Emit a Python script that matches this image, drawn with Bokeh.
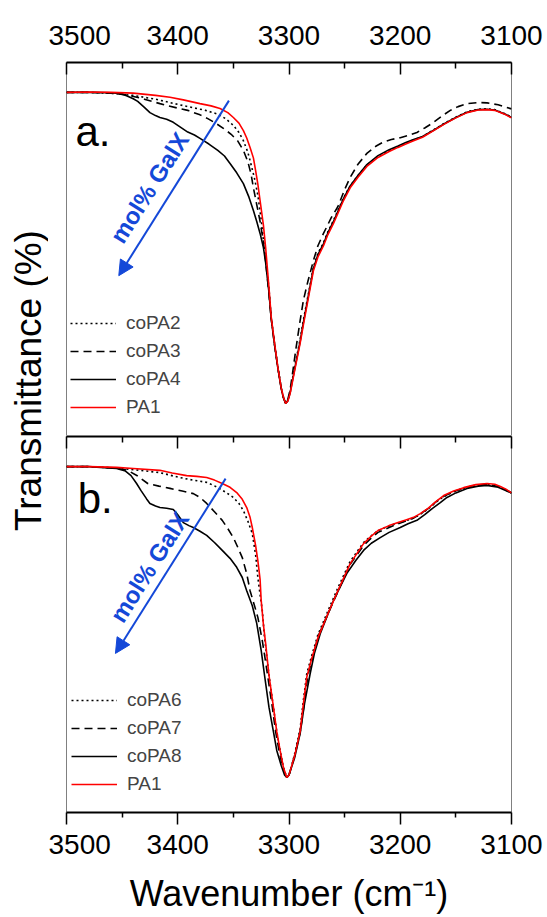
import math
from bokeh.plotting import figure
from bokeh.models import (Range1d, LinearAxis, FixedTicker, Legend, LegendItem,
                          Label, Arrow, NormalHead)
from bokeh.layouts import row, column
from bokeh.embed import file_html
from bokeh.resources import INLINE

FONT = "Liberation Sans"
BLUE = "#1448d8"
RED = "#ff0000"

# ---------------- data (wavenumber cm-1, relative transmittance) ----------------
MAJOR_TICKS = [3500, 3400, 3300, 3200, 3100]
MINOR_TICKS = [3450, 3350, 3250, 3150]

# Panel a
a_pa2_x = [3500, 3480, 3460, 3440, 3420, 3410, 3400, 3386, 3375, 3364, 3357, 3350, 3345, 3341, 3337,
           3335, 3331, 3328, 3325, 3323, 3320, 3318, 3316, 3313, 3310, 3307, 3305, 3303, 3301, 3299,
           3297, 3294, 3290, 3287, 3283, 3278, 3274, 3269, 3265, 3260, 3251, 3245, 3238, 3230, 3220,
           3210, 3202, 3195, 3188, 3180, 3170, 3160, 3150, 3140, 3130, 3122, 3115, 3110, 3105, 3100]
a_pa2_y = [92.0, 92.0, 91.8, 91.2, 90.2, 89.5, 88.8, 87.9, 87.2, 86.2, 85.0, 83.2, 81.3, 79.1, 76.0,
           73.8, 69.0, 64.5, 58.0, 52.4, 45.0, 39.5, 31.8, 25.0, 18.5, 13.0, 10.5, 8.8, 9.6, 11.8,
           15.2, 20.0, 26.0, 31.2, 37.5, 45.4, 49.0, 51.8, 54.8, 57.8, 63.8, 67.0, 69.8, 72.6, 74.9,
           76.4, 77.5, 78.4, 79.3, 80.2, 82.0, 83.8, 85.4, 86.8, 87.5, 87.6, 87.4, 86.8, 86.2, 85.4]

a_pa3_x = [3500, 3480, 3460, 3445, 3430, 3416, 3400, 3391, 3380, 3373, 3366, 3359, 3352, 3346, 3341,
           3337, 3334, 3332, 3329, 3326, 3323, 3321, 3318, 3316, 3313, 3310, 3307, 3305, 3303, 3301,
           3299, 3297, 3294, 3290, 3287, 3283, 3278, 3274, 3269, 3262, 3256, 3250, 3245, 3238, 3230,
           3222, 3216, 3208, 3200, 3193, 3185, 3178, 3170, 3162, 3155, 3148, 3140, 3130, 3122, 3112,
           3100]
a_pa3_y = [92.0, 92.0, 91.8, 91.3, 90.2, 89.0, 87.8, 87.2, 86.0, 85.0, 83.8, 82.4, 80.8, 79.0, 76.5,
           73.5, 70.0, 66.5, 62.0, 57.5, 52.0, 47.0, 38.0, 31.5, 24.5, 18.3, 13.0, 10.5, 8.8, 10.0,
           12.5, 16.5, 23.0, 31.0, 36.5, 41.5, 47.1, 51.0, 54.3, 58.5, 61.5, 66.0, 69.3, 72.8, 75.7,
           77.6, 78.6, 79.4, 79.9, 80.5, 81.3, 82.5, 84.0, 85.8, 87.2, 88.2, 89.0, 89.3, 89.2, 88.7,
           87.6]

a_pa4_x = [3500, 3480, 3460, 3450, 3445, 3440, 3436, 3430, 3425, 3420, 3416, 3410, 3404, 3398, 3391,
           3385, 3380, 3372, 3364, 3358, 3353, 3347, 3341, 3336, 3332, 3329, 3326, 3323, 3321, 3318,
           3316, 3313, 3310, 3307, 3305, 3303, 3301, 3299, 3297, 3294, 3290, 3287, 3283, 3278, 3274,
           3269, 3265, 3260, 3251, 3245, 3238, 3230, 3220, 3210, 3202, 3195, 3188, 3180, 3170, 3160,
           3150, 3140, 3130, 3122, 3115, 3110, 3105, 3100]
a_pa4_y = [92.0, 92.0, 91.9, 91.6, 91.0, 90.3, 89.6, 88.0, 86.6, 85.8, 85.3, 84.8, 84.0, 82.8, 81.4,
           80.6, 79.7, 78.2, 76.5, 75.0, 73.0, 70.5, 67.6, 64.0, 60.4, 57.5, 54.3, 50.5, 46.5, 38.5,
           31.5, 24.5, 18.3, 12.8, 10.3, 8.8, 9.6, 11.7, 14.8, 19.4, 25.4, 30.6, 37.0, 45.0, 48.6,
           51.5, 54.5, 57.5, 63.6, 67.0, 69.8, 72.7, 75.1, 76.7, 77.7, 78.6, 79.4, 80.2, 81.9, 83.7,
           85.3, 86.7, 87.4, 87.5, 87.3, 86.7, 86.1, 85.3]

a_pa1_x = [3500, 3480, 3460, 3440, 3420, 3407, 3395, 3380, 3370, 3362, 3355, 3350, 3345, 3341, 3338,
           3335, 3332, 3330, 3328, 3326, 3323, 3321, 3318, 3316, 3313, 3310, 3307, 3305, 3303, 3301,
           3299, 3297, 3294, 3290, 3287, 3283, 3278, 3274, 3269, 3265, 3260, 3251, 3245, 3238, 3230,
           3220, 3210, 3202, 3195, 3188, 3180, 3170, 3160, 3150, 3140, 3130, 3122, 3115, 3110, 3105,
           3100]
a_pa1_y = [92.0, 92.1, 92.0, 91.8, 91.2, 90.7, 90.0, 89.0, 88.4, 87.7, 86.6, 85.3, 83.8, 81.8, 79.8,
           77.3, 74.5, 71.1, 67.5, 63.1, 56.5, 50.5, 39.8, 32.0, 25.0, 18.5, 13.0, 10.5, 8.8, 9.5,
           11.5, 14.5, 19.0, 24.9, 30.0, 36.4, 44.4, 48.0, 51.0, 54.0, 57.0, 63.1, 66.5, 69.3, 72.2,
           74.6, 76.2, 77.3, 78.2, 79.1, 80.0, 81.8, 83.6, 85.2, 86.6, 87.3, 87.4, 87.2, 86.6, 86.0,
           85.2]

# Panel b
b_pa6_x = [3500, 3480, 3455, 3440, 3416, 3400, 3390, 3374, 3365, 3357, 3350, 3345, 3341, 3337, 3333,
           3330, 3328, 3326, 3324, 3322, 3318, 3314, 3311, 3308, 3305, 3302, 3300, 3298, 3295, 3290,
           3287, 3284, 3280, 3274, 3265, 3256, 3245, 3233, 3226, 3220, 3210, 3202, 3195, 3188, 3182,
           3175, 3168, 3161, 3152, 3143, 3132, 3122, 3110, 3100]
b_pa6_y = [92.0, 92.0, 91.6, 91.2, 90.4, 89.2, 88.6, 87.8, 86.6, 85.2, 83.8, 82.2, 80.3, 77.5, 74.2,
           68.5, 62.5, 58.0, 53.7, 46.5, 36.5, 28.0, 21.5, 16.5, 12.0, 9.3, 10.0, 12.0, 15.5, 22.3,
           30.0, 37.0, 41.3, 47.3, 53.6, 59.8, 66.8, 71.8, 73.6, 75.0, 76.2, 77.0, 77.6, 78.3, 79.3,
           80.7, 82.5, 84.0, 85.3, 86.2, 87.0, 87.3, 86.5, 84.9]

b_pa7_x = [3500, 3480, 3455, 3445, 3436, 3427, 3417, 3407, 3396, 3386, 3380, 3374, 3367, 3360, 3355,
           3350, 3346, 3342, 3338, 3335, 3331, 3328, 3324, 3321, 3318, 3315, 3312, 3309, 3306, 3303,
           3302, 3300, 3298, 3295, 3290, 3286, 3283, 3278, 3274, 3265, 3256, 3245, 3233, 3226, 3220,
           3210, 3202, 3195, 3188, 3182, 3175, 3168, 3161, 3152, 3143, 3132, 3122, 3110, 3100]
b_pa7_y = [92.0, 92.0, 91.6, 91.0, 89.5, 87.5, 86.8, 86.2, 85.5, 84.8, 83.8, 82.2, 80.0, 77.7, 75.5,
           73.1, 70.5, 67.8, 63.5, 59.0, 55.0, 51.9, 45.7, 40.0, 34.0, 28.0, 21.5, 16.5, 12.5, 9.8,
           9.3, 10.0, 12.0, 15.0, 21.3, 29.5, 36.5, 42.0, 46.8, 52.8, 58.8, 66.0, 71.0, 73.0, 74.5,
           75.8, 76.8, 77.5, 78.3, 79.4, 80.8, 82.6, 84.1, 85.3, 86.3, 87.1, 87.3, 86.6, 85.0]

b_pa8_x = [3500, 3480, 3455, 3447, 3442, 3437, 3433, 3428, 3425, 3420, 3416, 3410, 3404, 3400, 3395,
           3390, 3386, 3380, 3374, 3367, 3360, 3353, 3347, 3342, 3338, 3333, 3329, 3325, 3322, 3318,
           3314, 3311, 3307, 3304, 3302, 3300, 3298, 3295, 3290, 3286, 3281, 3277, 3272, 3266, 3260,
           3254, 3248, 3240, 3233, 3226, 3218, 3210, 3200, 3193, 3185, 3178, 3171, 3164, 3158, 3150,
           3140, 3130, 3122, 3112, 3100]
b_pa8_y = [92.0, 92.0, 91.5, 90.8, 89.6, 87.5, 85.6, 83.4, 82.2, 81.5, 81.1, 80.9, 80.6, 79.2, 77.1,
           76.3, 75.8, 74.8, 73.7, 71.8, 69.7, 67.6, 65.2, 62.5, 59.0, 55.0, 50.3, 43.1, 36.5, 28.0,
           21.5, 16.5, 12.5, 10.0, 9.3, 10.0, 11.8, 14.5, 21.0, 29.0, 36.9, 42.5, 47.5, 52.0, 56.4,
           60.0, 63.6, 67.0, 69.7, 71.6, 73.1, 74.5, 75.8, 76.8, 77.7, 79.2, 80.9, 82.4, 83.8, 85.0,
           86.2, 86.8, 87.0, 86.5, 85.0]

b_pa1_x = [3500, 3480, 3455, 3440, 3416, 3405, 3392, 3383, 3374, 3367, 3360, 3353, 3347, 3342, 3338,
           3335, 3333, 3330, 3328, 3326, 3325, 3323, 3321, 3318, 3314, 3311, 3308, 3305, 3302, 3300,
           3298, 3295, 3290, 3287, 3284, 3280, 3274, 3265, 3256, 3245, 3233, 3226, 3220, 3210, 3202,
           3195, 3188, 3182, 3175, 3168, 3161, 3152, 3143, 3132, 3122, 3115, 3110, 3105, 3100]
b_pa1_y = [92.0, 92.0, 91.8, 91.5, 91.0, 90.3, 89.6, 89.4, 89.1, 88.4, 87.5, 86.5, 85.1, 83.3, 81.1,
           78.5, 75.8, 71.0, 67.0, 62.0, 56.4, 50.0, 45.0, 36.5, 28.0, 21.5, 16.5, 12.0, 9.3, 10.0,
           12.0, 15.0, 21.5, 29.0, 36.0, 40.5, 46.5, 52.9, 59.0, 66.2, 71.5, 73.5, 75.0, 76.3, 77.1,
           77.8, 78.5, 79.5, 80.9, 82.7, 84.3, 85.5, 86.4, 87.2, 87.5, 87.3, 86.7, 86.0, 85.0]

a_labels = ["coPA2", "coPA3", "coPA4", "PA1"]
b_labels = ["coPA6", "coPA7", "coPA8", "PA1"]

# ---------------- layout constants ----------------
LAB_W = 48
FIG_W = 497
TOP_H = 436
BOT_H = 481
TOTAL_H = TOP_H + BOT_H


def style_axis(ax):
    ax.axis_line_color = "black"
    ax.axis_line_width = 2
    ax.major_tick_line_color = "black"
    ax.minor_tick_line_color = "black"
    ax.major_tick_line_width = 1.5
    ax.minor_tick_line_width = 1.5
    ax.major_label_text_font = FONT
    ax.major_label_text_font_size = "28px"
    ax.major_label_text_color = "black"
    return ax


def labeled_axis(tick_in, standoff):
    ax = style_axis(LinearAxis(ticker=FixedTicker(ticks=MAJOR_TICKS, minor_ticks=MINOR_TICKS)))
    if tick_in:
        ax.major_tick_in, ax.major_tick_out = 12, 0
        ax.minor_tick_in, ax.minor_tick_out = 6, 0
    else:
        ax.major_tick_in, ax.major_tick_out = 0, 12
        ax.minor_tick_in, ax.minor_tick_out = 0, 5
    ax.major_label_standoff = standoff
    return ax


def unlabeled_axis(positions, length, line=True):
    ax = style_axis(LinearAxis(ticker=FixedTicker(ticks=[], minor_ticks=positions)))
    ax.minor_tick_in, ax.minor_tick_out = length, 0
    ax.major_tick_in, ax.major_tick_out = 0, 0
    ax.major_label_standoff = 0
    if not line:
        ax.axis_line_color = None
    return ax


def panel(height, top_b, bot_b):
    p = figure(width=FIG_W, height=height, x_range=Range1d(3500, 3100), y_range=Range1d(0, 100),
               output_backend="svg", toolbar_location=None,
               x_axis_location=None, y_axis_location=None,
               min_border_left=18, min_border_right=34,
               min_border_top=top_b, min_border_bottom=bot_b)
    p.grid.visible = False
    p.outline_line_color = "#808080"
    p.outline_line_width = 1
    p.background_fill_color = "white"
    p.border_fill_color = "white"
    return p


def draw(p, series, labels, loc):
    styles = [dict(line_color="black", line_dash="2 3"),
              dict(line_color="black", line_dash="8 5"),
              dict(line_color="black"),
              dict(line_color=RED)]
    rs = []
    for (xs, ys), st in zip(series, styles):
        rs.append(p.line(xs, ys, line_width=1.6, **st))
    leg = Legend(items=[LegendItem(label=l, renderers=[r]) for l, r in zip(labels, rs)],
                 location=loc, border_line_color=None, background_fill_alpha=0,
                 padding=0, margin=0, spacing=6, glyph_height=20, glyph_width=46,
                 label_height=20, label_standoff=10, label_text_font=FONT,
                 label_text_font_size="19px")
    p.add_layout(leg)


def annotate(p, letter, lx, ly, ax0, ay0, ax1, ay1, tx, ty):
    p.add_layout(Label(x=lx, y=ly, text=letter, text_align="left", text_baseline="alphabetic",
                       text_font=FONT, text_font_size="42px", text_color="black"))
    p.add_layout(Arrow(end=NormalHead(size=15, fill_color=BLUE, line_color=BLUE),
                       x_start=ax0, y_start=ay0, x_end=ax1, y_end=ay1,
                       line_color=BLUE, line_width=2))
    p.add_layout(Label(x=tx, y=ty, text="mol% GalX", angle=math.radians(57.8),
                       text_align="center", text_baseline="middle", text_font=FONT,
                       text_font_style="bold", text_font_size="24px", text_color=BLUE))


# top panel
top = panel(TOP_H, 62, 0)
top.add_layout(labeled_axis(True, 18), "above")
draw(top, [(a_pa2_x, a_pa2_y), (a_pa3_x, a_pa3_y), (a_pa4_x, a_pa4_y), (a_pa1_x, a_pa1_y)],
     a_labels, (4, 18))
annotate(top, "a.", 3492, 81.6, 3354, 89.8, 3453, 43.0, 3425.5, 66.5)

# bottom panel
bot = panel(BOT_H, 0, 105)
bot.add_layout(unlabeled_axis(MAJOR_TICKS, 12), "above")
bot.add_layout(unlabeled_axis(MINOR_TICKS, 6, line=False), "above")
bx = labeled_axis(False, 10)
bx.axis_label = "Wavenumber (cm\u207b\u00b9)"
bx.axis_label_text_font = FONT
bx.axis_label_text_font_size = "36px"
bx.axis_label_text_font_style = "normal"
bx.axis_label_text_color = "black"
bx.axis_label_standoff = 16
bot.add_layout(bx, "below")
draw(bot, [(b_pa6_x, b_pa6_y), (b_pa7_x, b_pa7_y), (b_pa8_x, b_pa8_y), (b_pa1_x, b_pa1_y)],
     b_labels, (5, 17))
annotate(bot, "b.", 3490, 83.6, 3357, 88.8, 3456, 42.3, 3425.5, 65.3)

# y-axis title column
lab = figure(width=LAB_W, height=TOTAL_H, x_range=Range1d(0, LAB_W), y_range=Range1d(TOTAL_H, 0),
             output_backend="svg", toolbar_location=None, x_axis_location=None,
             y_axis_location=None, min_border=0)
lab.grid.visible = False
lab.outline_line_color = None
lab.add_layout(Label(x=28, y=380, text="Transmittance (%)", angle=math.pi / 2,
                     text_align="center", text_baseline="middle", text_font=FONT,
                     text_font_size="37px", text_color="black"))

layout = row(lab, column(top, bot, spacing=0), spacing=0)
open("out.html", "w").write(file_html(layout, INLINE))
